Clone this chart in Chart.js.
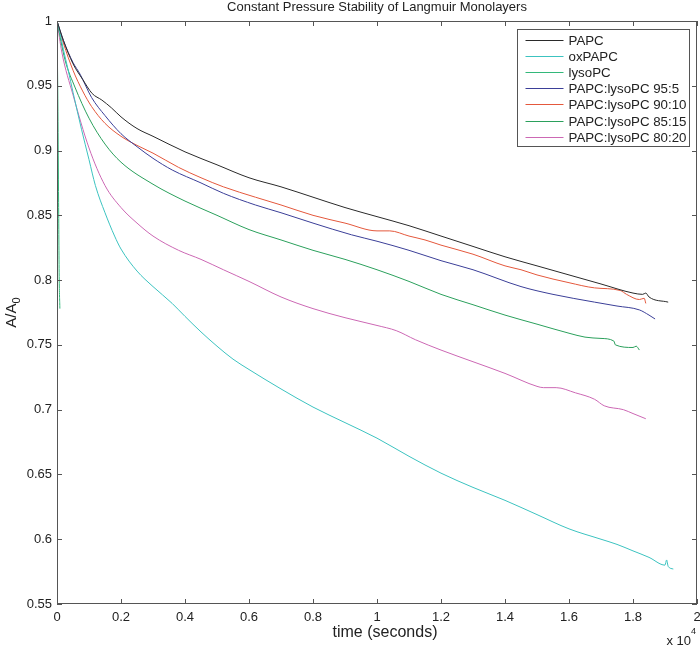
<!DOCTYPE html>
<html>
<head>
<meta charset="utf-8">
<script src="https://cdn.jsdelivr.net/npm/chart.js@4.4.1/dist/chart.umd.min.js"></script>
<style>
  html, body { margin: 0; padding: 0; background: #fff; }
  #wrap { width: 700px; height: 647px; position: relative; }
</style>
</head>
<body>
<div id="wrap"><canvas id="c" width="700" height="647"></canvas></div>
<script>
// ---- tick definitions (x in units of 10^4 s) ----
const xTicks = [0, 0.2, 0.4, 0.6, 0.8, 1, 1.2, 1.4, 1.6, 1.8, 2];
const xTickLabels = ['0', '0.2', '0.4', '0.6', '0.8', '1', '1.2', '1.4', '1.6', '1.8', '2'];
const yTicks = [0.55, 0.6, 0.65, 0.7, 0.75, 0.8, 0.85, 0.9, 0.95, 1];
const yTickLabels = ['0.55', '0.6', '0.65', '0.7', '0.75', '0.8', '0.85', '0.9', '0.95', '1'];

const chartTitle = 'Constant Pressure Stability of Langmuir Monolayers';
const seriesNames = ['PAPC', 'oxPAPC', 'lysoPC', 'PAPC:lysoPC 95:5', 'PAPC:lysoPC 90:10', 'PAPC:lysoPC 85:15', 'PAPC:lysoPC 80:20'];

// ---- series (time x10^4 s, A/A0) ----
const papcT = [0, 0.02, 0.05, 0.08, 0.11, 0.14, 0.17, 0.2, 0.25, 0.3, 0.4, 0.5, 0.6, 0.7, 0.8, 0.9, 1.0, 1.1, 1.2, 1.3, 1.4, 1.5, 1.6, 1.7, 1.8, 1.83, 1.84, 1.85, 1.91];
const papcV = [1.0, 0.985, 0.967, 0.955, 0.944, 0.939, 0.933, 0.926, 0.917, 0.911, 0.899, 0.889, 0.879, 0.872, 0.864, 0.856, 0.849, 0.842, 0.834, 0.826, 0.818, 0.811, 0.804, 0.797, 0.790, 0.789, 0.790, 0.787, 0.783];

const oxT = [0, 0.01, 0.02, 0.035, 0.05, 0.077, 0.1, 0.12, 0.15, 0.18, 0.2, 0.25, 0.3, 0.36, 0.4, 0.45, 0.5, 0.55, 0.6, 0.7, 0.8, 0.9, 1.0, 1.1, 1.2, 1.3, 1.4, 1.5, 1.6, 1.7, 1.75, 1.8, 1.85, 1.9, 1.905, 1.91, 1.926];
const oxV = [1.0, 0.99, 0.978, 0.962, 0.945, 0.916, 0.893, 0.873, 0.852, 0.834, 0.824, 0.807, 0.795, 0.782, 0.772, 0.760, 0.749, 0.739, 0.731, 0.716, 0.702, 0.690, 0.678, 0.664, 0.651, 0.640, 0.630, 0.619, 0.608, 0.600, 0.596, 0.591, 0.586, 0.580, 0.584, 0.579, 0.577];

const lysoT = [0, 0.003, 0.005, 0.007, 0.009];
const lysoV = [1.0, 0.93, 0.86, 0.80, 0.778];

const p95T = [0, 0.02, 0.05, 0.072, 0.108, 0.15, 0.2, 0.25, 0.3, 0.36, 0.45, 0.52, 0.62, 0.7, 0.8, 0.92, 1.0, 1.1, 1.2, 1.3, 1.45, 1.55, 1.68, 1.75, 1.82, 1.85, 1.869];
const p95V = [1.0, 0.985, 0.968, 0.959, 0.941, 0.927, 0.913, 0.903, 0.894, 0.885, 0.875, 0.867, 0.858, 0.852, 0.844, 0.835, 0.830, 0.823, 0.815, 0.808, 0.795, 0.789, 0.783, 0.780, 0.777, 0.773, 0.770];

const p90T = [0, 0.02, 0.05, 0.08, 0.108, 0.15, 0.2, 0.25, 0.3, 0.38, 0.45, 0.52, 0.62, 0.7, 0.8, 0.9, 1.0, 1.04, 1.1, 1.15, 1.2, 1.3, 1.4, 1.45, 1.5, 1.6, 1.68, 1.76, 1.78, 1.82, 1.835, 1.84];
const p90V = [1.0, 0.983, 0.962, 0.946, 0.934, 0.921, 0.911, 0.904, 0.898, 0.887, 0.879, 0.872, 0.864, 0.858, 0.850, 0.844, 0.838, 0.838, 0.834, 0.831, 0.827, 0.820, 0.811, 0.808, 0.804, 0.798, 0.794, 0.792, 0.789, 0.785, 0.786, 0.782];

const p85T = [0, 0.025, 0.056, 0.1, 0.15, 0.2, 0.3, 0.4, 0.5, 0.6, 0.7, 0.8, 0.9, 1.0, 1.1, 1.2, 1.3, 1.4, 1.5, 1.6, 1.65, 1.7, 1.74, 1.745, 1.8, 1.81, 1.82];
const p85V = [1.0, 0.970, 0.949, 0.925, 0.905, 0.891, 0.874, 0.861, 0.850, 0.839, 0.831, 0.823, 0.816, 0.808, 0.799, 0.789, 0.781, 0.773, 0.766, 0.759, 0.756, 0.755, 0.753, 0.750, 0.748, 0.749, 0.746];

const p80T = [0, 0.015, 0.05, 0.1, 0.15, 0.2, 0.25, 0.3, 0.38, 0.45, 0.52, 0.6, 0.7, 0.8, 0.9, 1.0, 1.06, 1.12, 1.2, 1.3, 1.4, 1.5, 1.52, 1.56, 1.62, 1.68, 1.71, 1.77, 1.8, 1.84];
const p80V = [1.0, 0.976, 0.943, 0.902, 0.873, 0.856, 0.844, 0.834, 0.823, 0.816, 0.808, 0.799, 0.787, 0.778, 0.771, 0.765, 0.761, 0.754, 0.746, 0.737, 0.728, 0.718, 0.717, 0.717, 0.713, 0.708, 0.703, 0.700, 0.697, 0.693];

const seriesT = [papcT, oxT, lysoT, p95T, p90T, p85T, p80T];
const seriesV = [papcV, oxV, lysoV, p95V, p90V, p85V, p80V];
const seriesColors = ['#2a2a2a', '#3cc3c0', '#33b87a', '#3b3f98', '#e4583c', '#2ba05c', '#cc68b4'];

const FONT = "Helvetica, Arial, 'Liberation Sans', sans-serif";

function zip(t, v) { return t.map((x, i) => ({ x: x, y: v[i] })); }

const datasets = seriesNames.map((name, i) => ({
  label: name,
  data: zip(seriesT[i], seriesV[i]),
  borderColor: seriesColors[i],
  backgroundColor: seriesColors[i],
  borderWidth: 1,
  pointRadius: 0,
  showLine: true,
  cubicInterpolationMode: 'monotone',
  fill: false
}));

const decorPlugin = {
  id: 'decor',
  afterDraw(chart) {
    const ctx = chart.ctx;
    const a = chart.chartArea;
    const xs = chart.scales.x, ys = chart.scales.y;
    ctx.save();
    // title centred over the axes
    ctx.fillStyle = '#222';
    ctx.font = '13px ' + FONT;
    ctx.textAlign = 'center';
    ctx.textBaseline = 'middle';
    ctx.fillText(chartTitle, (a.left + a.right) / 2, 7);

    // axes box
    ctx.strokeStyle = '#555';
    ctx.lineWidth = 1;
    ctx.strokeRect(Math.round(a.left) + 0.5, Math.round(a.top) + 0.5, Math.round(a.right - a.left) - 1, Math.round(a.bottom - a.top) - 1);
    // inward ticks
    const tl = 5;
    ctx.beginPath();
    xTicks.forEach(v => {
      const px = Math.round(xs.getPixelForValue(v)) + 0.5;
      ctx.moveTo(px, a.bottom); ctx.lineTo(px, a.bottom - tl);
      ctx.moveTo(px, a.top); ctx.lineTo(px, a.top + tl);
    });
    yTicks.forEach(v => {
      const py = Math.round(ys.getPixelForValue(v)) + 0.5;
      ctx.moveTo(a.left, py); ctx.lineTo(a.left + tl, py);
      ctx.moveTo(a.right, py); ctx.lineTo(a.right - tl, py);
    });
    ctx.stroke();

    // legend box (inside, upper right)
    const bw = 172, bh = 117;
    const bx = Math.round(a.right - 8 - bw) + 0.5, by = Math.round(a.top + 8) + 0.5;
    ctx.fillStyle = '#fff';
    ctx.fillRect(bx, by, bw, bh);
    ctx.strokeStyle = '#555';
    ctx.strokeRect(bx, by, bw, bh);
    ctx.font = '13.3px ' + FONT;
    ctx.textBaseline = 'middle';
    ctx.textAlign = 'left';
    chart.data.datasets.forEach((ds, i) => {
      const ry = Math.round(by + 10.5 + i * 16.1) + 0.5;
      ctx.strokeStyle = ds.borderColor;
      ctx.beginPath();
      ctx.moveTo(bx + 8, ry); ctx.lineTo(bx + 46, ry);
      ctx.stroke();
      ctx.fillStyle = '#222';
      ctx.fillText(ds.label, bx + 51, ry + 0.5);
    });

    // x axis title
    ctx.fillStyle = '#222';
    ctx.font = '16px ' + FONT;
    ctx.textAlign = 'center';
    ctx.textBaseline = 'middle';
    ctx.fillText('time (seconds)', (a.left + a.right) / 2 + 8, 633);

    // exponent label
    ctx.font = '13px ' + FONT;
    ctx.textAlign = 'right';
    ctx.textBaseline = 'middle';
    ctx.fillText('x 10', 691, 641);
    ctx.font = '9px ' + FONT;
    ctx.textAlign = 'left';
    ctx.fillText('4', 691, 632);

    // y axis title with subscript
    ctx.save();
    ctx.translate(12, (a.top + a.bottom) / 2);
    ctx.rotate(-Math.PI / 2);
    ctx.font = '15px ' + FONT;
    const w1 = ctx.measureText('A/A').width;
    ctx.font = '11px ' + FONT;
    const w2 = ctx.measureText('0').width;
    const start = -(w1 + w2) / 2;
    ctx.textAlign = 'left';
    ctx.textBaseline = 'middle';
    ctx.font = '15px ' + FONT;
    ctx.fillText('A/A', start, 0);
    ctx.font = '11px ' + FONT;
    ctx.fillText('0', start + w1, 5);
    ctx.restore();

    ctx.restore();
  }
};

new Chart(document.getElementById('c'), {
  type: 'scatter',
  data: { datasets: datasets },
  options: {
    responsive: false,
    animation: false,
    events: [],
    layout: { padding: { left: 0, right: 3, top: 21, bottom: 0 } },
    plugins: {
      legend: { display: false },
      tooltip: { enabled: false },
      title: { display: false }
    },
    scales: {
      x: {
        type: 'linear',
        min: 0, max: 2,
        afterBuildTicks(scale) { scale.ticks = xTicks.map(v => ({ value: v })); },
        afterFit(scale) { scale.height = 43; scale.paddingLeft = 0; scale.paddingRight = 0; },
        grid: { display: false, drawTicks: false },
        border: { display: false },
        ticks: {
          padding: 6,
          color: '#222',
          font: { size: 13, family: FONT },
          maxRotation: 0,
          autoSkip: false,
          callback(value) { const i = xTicks.indexOf(value); return i >= 0 ? xTickLabels[i] : ''; }
        }
      },
      y: {
        type: 'linear',
        min: 0.55, max: 1,
        afterBuildTicks(scale) { scale.ticks = yTicks.map(v => ({ value: v })); },
        afterFit(scale) { scale.width = 57; scale.paddingTop = 0; scale.paddingBottom = 0; },
        grid: { display: false, drawTicks: false },
        border: { display: false },
        ticks: {
          padding: 5,
          color: '#222',
          font: { size: 13, family: FONT },
          autoSkip: false,
          callback(value) { const i = yTicks.indexOf(value); return i >= 0 ? yTickLabels[i] : ''; }
        }
      }
    }
  },
  plugins: [decorPlugin]
});
</script>
</body>
</html>
